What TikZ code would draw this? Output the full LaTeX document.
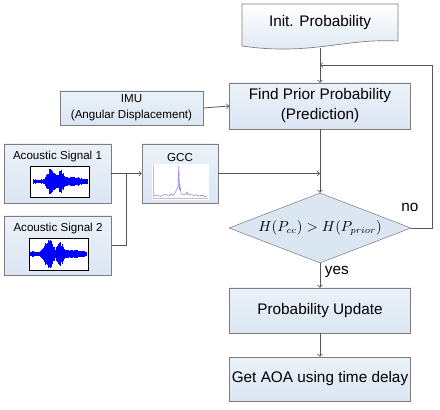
\documentclass[tikz,border=0pt]{standalone}
\usepackage{fontspec}
\setmainfont{Liberation Sans}
\usetikzlibrary{shapes.geometric}

\definecolor{boxblue}{RGB}{219,230,243}
\definecolor{boxline}{RGB}{125,125,125}
\definecolor{arrline}{RGB}{85,85,85}
\definecolor{gccline}{RGB}{150,140,230}

\tikzset{
	flowbox/.style={draw=boxline, top color=boxblue!55, bottom color=boxblue, align=center,
		inner sep=0pt, minimum width=135.75pt, font=\fontsize{11.5}{15}\selectfont},
	smallbox/.style={draw=boxline, top color=boxblue!55, bottom color=boxblue, align=center,
		inner sep=0pt, font=\fontsize{8.7}{12}\selectfont},
	smalltext/.style={inner sep=0pt, font=\fontsize{8.7}{12}\selectfont},
	conn/.style={draw=arrline, line width=0.6pt},
}

\begin{document}
\begin{tikzpicture}[x=0.75pt,y=0.75pt]
		\useasboundingbox (0,0) rectangle (440,-410);

		% init box with wavy bottom
		\draw[boxline, top color=white, bottom color=boxblue, line width=0.5pt]
			(242,-4) -- (398,-4) -- (398,-41)
			.. controls (345,-38) and (310,-56) .. (242,-46) -- cycle;
		\node[inner sep=0pt, font=\fontsize{11.5}{15}\selectfont] (init) at (320,-23) {Init. Probability};
		\coordinate (initb) at (320,-48);

		% main column
		\node[flowbox, minimum height=34.5pt] (prior) at (320,-106) {Find Prior Probability\\(Prediction)};
		\node[diamond, draw=boxline, fill=boxblue, aspect=2.6, inner sep=0pt, font=\fontsize{10.7}{14}\selectfont,
			minimum width=136.5pt, minimum height=52.5pt] (check) at (320,-228) {$H(P_{cc}) > H(P_{prior})$};
		\node[flowbox, minimum height=33.75pt] (update) at (320,-310.5) {Probability Update};
		\node[flowbox, minimum height=33pt] (aoa) at (320,-379) {Get AOA using time delay};

		% inputs
		\node[smallbox, minimum width=107.25pt, minimum height=25.5pt] (imu) at (131.5,-108) {IMU\\(Angular Displacement)};
		\node[smallbox, minimum width=80.25pt, minimum height=44.25pt] (as1) at (57.5,-173.5) {};
		\node[smallbox, minimum width=80.25pt, minimum height=44.25pt] (as2) at (58,-245.5) {};
		\node[smallbox, minimum width=57pt, minimum height=44.25pt] (gcc) at (180,-173.5) {};
		\node[smalltext] (as1t) at (57.5,-157) {Acoustic Signal 1};
		\node[smalltext] (as2t) at (58,-229) {Acoustic Signal 2};
		\node[smalltext] (gcct) at (180,-158) {GCC};

		% signal 1
		\draw[black,line width=0.4pt,fill=white] (30,-166) rectangle (89,-197);
		\pgfmathsetseed{7}
		\foreach \x in {33,33.4,...,87} {
			\pgfmathsetmacro\a{(2.2+11*exp(0-((\x-51)/4.5)^2)+9*exp(0-((\x-61)/3.5)^2)+3*exp(0-((\x-74)/8)^2))*(0.6+0.4*rnd)}
			\draw[blue,line width=0.5pt] (\x,-181.5+\a) -- (\x,-181.5-\a);
		}
		% signal 2
		\draw[black,line width=0.4pt,fill=white] (29,-238) rectangle (88,-270);
		\foreach \x in {30,30.4,...,86} {
			\pgfmathsetmacro\a{(2.7+13*exp(0-((\x-49)/5)^2)+9*exp(0-((\x-60)/3.5)^2)+2*exp(0-((\x-72)/8)^2))*(0.6+0.4*rnd)}
			\draw[blue,line width=0.5pt] (\x,-254+\a) -- (\x,-254-\a);
		}
		% gcc plot
		\fill[white] (152,-164) rectangle (209,-200);
		\draw[gray!50,line width=0.3pt] (153,-165) -- (153,-198) -- (208,-198);
		\draw[gccline,line width=0.5pt] plot coordinates {(154,-196) (157,-195) (160,-196.5) (163,-195)
			(166,-194.5) (169,-196) (171,-194) (173,-195.5) (175,-193) (176,-191) (177,-189) (178,-186)
			(178.8,-166) (179.4,-190) (180,-186) (181,-193) (183,-195) (185,-194.5) (187,-192) (188,-195)
			(190,-194) (193,-195.5) (196,-194.8) (199,-196) (202,-195.3) (205,-196.5) (207,-196)};

		% connectors
		\coordinate (merge) at (320,-65);
		\draw[conn,->] (initb) -- (prior.north);
		\draw[conn,->] (imu.east) -- (prior.west);
		\draw[conn,->] (prior.south) -- (check.north);
		\draw[conn,->] (gcc.east) -- (gcc.east -| prior.south);
		\draw[conn] (as1.east) -- ++(15,0) coordinate (bus);
		\draw[conn] (as2.east) -| (bus);
		\draw[conn,->] (bus) -- (gcc.west);
		\draw[conn,->] (check.south) -- node[right, pos=0.35, font=\fontsize{11.5}{14}\selectfont] (yes) {yes} (update.north);
		\draw[conn,->] (update.south) -- (aoa.north);
		\draw[conn,->] (check.east) -- ++(21,0) |- (merge);
		\node[font=\fontsize{11.5}{14}\selectfont] (no) at (410,-207) {no};
	\end{tikzpicture}
\end{document}
